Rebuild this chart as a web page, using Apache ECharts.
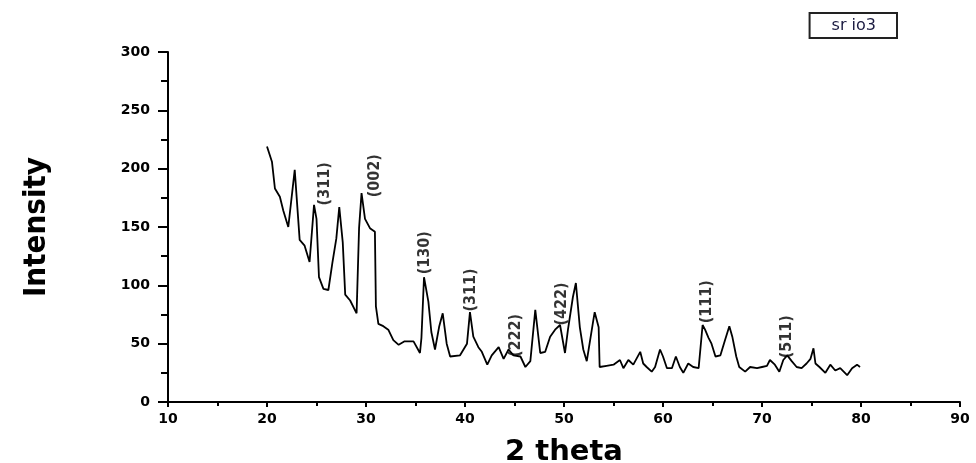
<!DOCTYPE html>
<html>
<head>
<meta charset="utf-8">
<script src="https://cdn.jsdelivr.net/npm/echarts@6/dist/echarts.min.js"></script>
<style>
  html, body { margin: 0; padding: 0; background: #fff; }
  #main { width: 976px; height: 463px; }
</style>
</head>
<body>
<div id="main"></div>
<script>
// 2 theta positions and intensity
var twoTheta = [
  20.0, 20.5, 20.8, 21.3, 21.65, 22.15, 22.8, 23.3, 23.8, 24.3,
  24.75, 25.0, 25.25, 25.7, 26.2, 26.6, 27.0, 27.3, 27.65, 27.9,
  28.4, 29.05, 29.3, 29.55, 29.9, 30.4, 30.9, 31.0, 31.25, 31.75,
  32.25, 32.76, 33.3, 33.9, 34.8, 35.45, 35.6, 35.86, 36.3, 36.6,
  36.97, 37.4, 37.75, 38.15, 38.5, 39.5, 40.2, 40.5, 40.84, 41.35,
  41.7, 42.25, 42.7, 43.4, 43.9, 44.4, 44.9, 45.6, 46.1, 46.6,
  47.1, 47.6, 48.1, 48.6, 49.1, 49.6, 50.1, 50.4, 50.9, 51.2,
  51.6, 51.95, 52.3, 52.96, 53.1, 53.5, 53.6, 54.3, 55.0, 55.65,
  56.0, 56.5, 57.0, 57.7, 58.0, 58.35, 58.86, 59.2, 59.7, 60.0,
  60.4, 60.9, 61.3, 61.7, 62.05, 62.55, 63.05, 63.6, 64.0, 64.25,
  64.6, 64.9, 65.3, 65.8, 66.26, 66.7, 67.0, 67.4, 67.7, 68.3,
  68.8, 69.5, 70.0, 70.5, 70.8, 71.3, 71.75, 72.15, 72.55, 73.0,
  73.5, 74.0, 74.5, 74.9, 75.2, 75.4, 75.8, 76.4, 76.9, 77.4,
  77.9, 78.25, 78.6, 79.1, 79.6, 79.9
];
var intensity = [
  219, 206, 183, 176, 164, 150, 199, 139, 134, 120,
  169, 157, 107, 97, 96, 119, 140, 167, 137, 92,
  87, 76, 149, 179, 157, 149, 146, 82, 67, 65,
  62, 53, 49, 52, 52, 42, 55, 107, 86, 60,
  45, 65, 76, 50, 39, 40, 50, 77, 56, 47,
  43, 32, 40, 47, 37, 45, 40, 39, 30, 35,
  79, 42, 43, 56, 62, 66, 42, 62, 90, 102,
  64, 45, 35, 70, 77, 64, 30, 31, 32, 36,
  29, 36, 32, 43, 33, 30, 26, 30, 45, 39,
  29, 29, 39, 30, 25, 33, 30, 29, 66, 62,
  55, 50, 39, 40, 53, 65, 56, 39, 30, 26,
  30, 29, 30, 31, 36, 32, 26, 36, 40, 35,
  30, 29, 33, 37, 46, 33, 30, 25, 32, 27,
  29, 26, 23, 29, 32, 30
];

// peak (hkl) annotations
var peakNames = ['(311)', '(002)', '(130)', '(311)', '(222)', '(422)', '(111)', '(511)'];
var peakX = [25.8, 30.9, 35.9, 40.6, 45.15, 49.8, 64.45, 72.5];
var peakY = [187, 194, 128, 96, 57, 84, 86, 56];

var xTicks = { min: 10, max: 90, step: 10 };
var yTicks = { min: 0, max: 300, step: 50 };

var lineData = twoTheta.map(function (x, i) { return [x, intensity[i]]; });
var peakData = peakNames.map(function (n, i) { return { name: n, value: [peakX[i], peakY[i]] }; });

var chart = echarts.init(document.getElementById('main'));

var option = {
  backgroundColor: '#fff',
  animation: false,
  grid: { left: 168, right: 16, top: 52, bottom: 61, outerBoundsMode: 'none' },
  legend: {
    data: ['sr io3'],
    right: 79,
    top: 13,
    icon: 'none',
    itemWidth: 0,
    itemHeight: 0,
    padding: [5, 21, 4, 17],
    borderColor: '#222',
    borderWidth: 2,
    borderRadius: 0,
    textStyle: { color: '#1a1a40', fontFamily: 'DejaVu Sans', fontSize: 16 }
  },
  xAxis: {
    type: 'value',
    min: xTicks.min,
    max: xTicks.max,
    interval: xTicks.step,
    name: '2 theta',
    nameLocation: 'middle',
    nameGap: 36,
    nameTextStyle: { color: '#000', fontFamily: 'DejaVu Sans', fontWeight: 'bold', fontSize: 29 },
    axisLine: { lineStyle: { color: '#000', width: 2 } },
    axisTick: { length: 5, lineStyle: { color: '#000', width: 2 } },
    minorTick: { show: true, splitNumber: 2, length: 4, lineStyle: { color: '#000', width: 2 } },
    splitLine: { show: false },
    axisLabel: { color: '#000', fontFamily: 'DejaVu Sans', fontWeight: 'bold', fontSize: 14, margin: 10 }
  },
  yAxis: {
    type: 'value',
    min: yTicks.min,
    max: yTicks.max,
    interval: yTicks.step,
    name: 'Intensity',
    nameLocation: 'middle',
    nameGap: 116,
    nameTextStyle: { color: '#000', fontFamily: 'Liberation Sans Narrow, DejaVu Sans Condensed, sans-serif', fontWeight: 'bold', fontSize: 31 },
    axisLine: { show: true, lineStyle: { color: '#000', width: 2 } },
    axisTick: { length: 10, lineStyle: { color: '#000', width: 2 } },
    minorTick: { show: true, splitNumber: 2, length: 7, lineStyle: { color: '#000', width: 2 } },
    splitLine: { show: false },
    axisLabel: { color: '#000', fontFamily: 'DejaVu Sans', fontWeight: 'bold', fontSize: 14, margin: 18 }
  },
  series: [
    {
      name: 'sr io3',
      type: 'line',
      data: lineData,
      symbol: 'none',
      lineStyle: { color: '#000', width: 1.8 },
      itemStyle: { color: '#000' }
    },
    {
      name: 'peaks',
      type: 'scatter',
      data: peakData,
      symbolSize: 0,
      silent: true,
      label: {
        show: true,
        formatter: '{b}',
        position: 'inside',
        rotate: 90,
        align: 'center',
        verticalAlign: 'middle',
        color: '#000',
        fontFamily: 'Liberation Sans Narrow, DejaVu Sans Condensed, sans-serif',
        fontWeight: 'bold',
        fontSize: 16
      }
    }
  ]
};

option && chart.setOption(option);
</script>
</body>
</html>
